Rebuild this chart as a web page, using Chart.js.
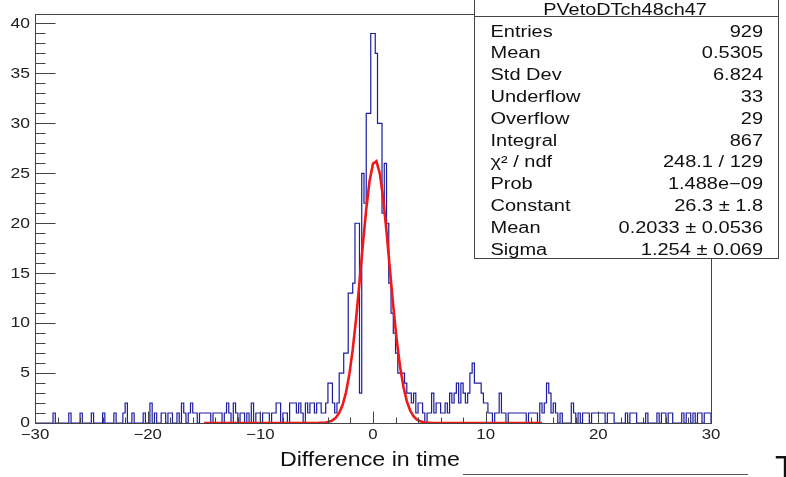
<!DOCTYPE html>
<html>
<head>
<meta charset="utf-8">
<script src="https://cdn.jsdelivr.net/npm/chart.js@4.4.1/dist/chart.umd.min.js"></script>
<style>
  html, body { margin: 0; padding: 0; background: #fff; }
  #wrap { width: 786px; height: 477px; }
</style>
</head>
<body>
<div id="wrap"><canvas id="dtChart" width="786" height="477"></canvas></div>
<script>
// binning of the time difference histogram
const binLow = -30
const binWidth = 0.2

// bin contents, 25 bins (5 ns) per row, from -30 to 30
const counts = [
  0, 0, 0, 0, 0, 0, 0, 0, 1, 0, 0, 0, 0, 0, 0, 1, 0, 0, 0, 0, 1, 0, 0, 0, 0,
  1, 0, 0, 0, 0, 1, 0, 0, 0, 0, 1, 0, 0, 0, 1, 2, 0, 0, 1, 0, 0, 0, 0, 1, 0,
  0, 2, 0, 1, 0, 0, 1, 1, 0, 1, 1, 0, 0, 1, 0, 2, 1, 0, 1, 2, 1, 1, 0, 1, 1,
  1, 1, 1, 0, 1, 1, 1, 1, 0, 1, 2, 1, 0, 2, 1, 0, 1, 1, 0, 1, 0, 2, 0, 1, 1,
  0, 1, 1, 1, 0, 1, 1, 2, 2, 0, 1, 1, 0, 2, 2, 2, 1, 2, 1, 0, 2, 1, 2, 2, 1,
  2, 2, 1, 1, 2, 4, 4, 2, 1, 2, 5, 5, 7, 7, 13, 13, 14, 20, 20, 3, 25, 22, 31, 31, 39,
  39, 37, 30, 30, 21, 26, 20, 14, 11, 9, 7, 5, 5, 5, 4, 3, 3, 2, 3, 1, 2, 2, 1, 0, 1,
  1, 3, 1, 2, 2, 1, 1, 2, 1, 3, 2, 3, 4, 2, 4, 3, 2, 3, 5, 6, 4, 4, 4, 3, 2,
  2, 1, 1, 0, 1, 1, 3, 1, 1, 0, 1, 1, 1, 1, 1, 1, 1, 1, 0, 1, 1, 1, 1, 0, 2,
  1, 2, 4, 3, 1, 2, 1, 0, 1, 0, 0, 0, 0, 2, 1, 0, 1, 0, 1, 1, 1, 0, 1, 1, 1,
  1, 1, 1, 0, 1, 1, 1, 0, 0, 0, 0, 0, 1, 0, 1, 1, 1, 0, 0, 0, 0, 1, 0, 0, 0,
  0, 1, 0, 1, 1, 0, 1, 1, 0, 0, 0, 0, 1, 0, 1, 1, 0, 1, 0, 1, 1, 0, 1, 1, 1,
]

const xTicks = [-30, -20, -10, 0, 10, 20, 30]
const yTicks = [0, 5, 10, 15, 20, 25, 30, 35, 40]
const yMax = 40.95

// gaus fit result
const fitRange = [-15, 15]
const fitConstant = 26.3
const fitMean = 0.2033
const fitSigma = 1.254

const histName = "PVetoDTch48ch47"
const xTitle = "Difference in time"
const statLabels = ["Entries", "Mean", "Std Dev", "Underflow", "Overflow", "Integral",
  "χ² / ndf", "Prob", "Constant", "Mean", "Sigma"]
const statValues = ["929", "0.5305", "6.824", "33", "29", "867",
  "248.1 / 129", "1.488e\u221209", "26.3 ± 1.8", "0.2033 ± 0.0536", "1.254 ± 0.069"]

const FONT = '"Liberation Sans", Arial, sans-serif'

// histogram outline: one point per bin low edge, drawn as steps
const histPoints = counts.map((c, i) => ({ x: binLow + i * binWidth, y: c }))
histPoints.push({ x: binLow + counts.length * binWidth, y: 0 })

const fitPoints = []
for (let i = 0; i <= 100; i++) {
  const x = fitRange[0] + ((fitRange[1] - fitRange[0]) * i) / 100
  const u = (x - fitMean) / fitSigma
  fitPoints.push({ x: x, y: fitConstant * Math.exp(-0.5 * u * u) })
}

function wideText(ctx, text, x, y, align, sx) {
  ctx.save()
  ctx.translate(x, y)
  ctx.scale(sx, 1)
  ctx.textAlign = align
  ctx.fillText(text, 0, 0)
  ctx.restore()
}

function seg(ctx, x1, y1, x2, y2) {
  ctx.beginPath()
  ctx.moveTo(x1, y1)
  ctx.lineTo(x2, y2)
  ctx.stroke()
}

// frame, axes and stats box in the usual ROOT look
const rootPad = {
  id: "rootPad",
  afterDraw(chart) {
    const ctx = chart.ctx
    const xs = chart.scales.x
    const ys = chart.scales.y
    const a = chart.chartArea
    const L = Math.round(a.left) + 0.5
    const R = Math.round(a.right) + 0.5
    const T = Math.round(a.top) + 0.5
    const B = Math.round(a.bottom) + 0.5

    ctx.save()
    ctx.strokeStyle = "#444"
    ctx.lineWidth = 1
    ctx.strokeRect(L, T, R - L, B - T)

    // y axis ticks, minor every 1
    for (let v = 0; v <= 40; v++) {
      const y = Math.round(ys.getPixelForValue(v)) + 0.5
      seg(ctx, L, y, L + (v % 5 === 0 ? 20 : 10), y)
    }
    // x axis ticks, minor every 2
    for (let v = -30; v <= 30; v += 2) {
      const x = Math.round(xs.getPixelForValue(v)) + 0.5
      seg(ctx, x, B, x, B - (v % 10 === 0 ? 12 : 6))
    }

    ctx.fillStyle = "#222"
    ctx.font = "14px " + FONT
    ctx.textBaseline = "middle"
    yTicks.forEach((v) => {
      wideText(ctx, String(v), 30, ys.getPixelForValue(v) + 0.5, "right", 1.25)
    })
    ctx.textBaseline = "alphabetic"
    xTicks.forEach((v) => {
      const s = v < 0 ? "\u2212" + Math.abs(v) : String(v)
      wideText(ctx, s, xs.getPixelForValue(v), 438.5, "center", 1.2)
    })

    ctx.fillStyle = "#111"
    ctx.font = "20px " + FONT
    wideText(ctx, xTitle, 460, 466, "right", 1.16)

    // leftovers of the next pad at the bottom edge
    ctx.strokeStyle = "#555"
    seg(ctx, 463, 474.5, 748, 474.5)
    ctx.font = "31px " + FONT
    wideText(ctx, "T", 775, 478, "left", 1.1)

    // stats box
    const bx = 474.5, bw = 304, by = -1.5, bb = 258.5
    ctx.fillStyle = "#fff"
    ctx.fillRect(bx, by, bw, bb - by)
    ctx.strokeStyle = "#444"
    ctx.strokeRect(bx, by, bw, bb - by)
    seg(ctx, bx, 16.5, bx + bw, 16.5)

    ctx.fillStyle = "#111"
    ctx.font = "17px " + FONT
    wideText(ctx, histName, 625, 14.5, "center", 1.17)
    ctx.font = "16px " + FONT
    statLabels.forEach((lab, i) => {
      const y = 36.5 + 21.8 * i
      wideText(ctx, lab, 490.5, y, "left", 1.25)
      wideText(ctx, statValues[i], 763, y, "right", 1.25)
    })
    ctx.restore()
  },
}

new Chart(document.getElementById("dtChart"), {
  type: "line",
  data: {
    datasets: [
      {
        label: "gaus",
        data: fitPoints,
        borderColor: "#f01818",
        borderWidth: 2.6,
        pointRadius: 0,
        tension: 0,
        order: 1,
      },
      {
        label: histName,
        data: histPoints,
        stepped: "before",
        borderColor: "#1c1ca0",
        borderWidth: 1.2,
        pointRadius: 0,
        order: 2,
      },
    ],
  },
  options: {
    responsive: false,
    animation: false,
    events: [],
    layout: {
      padding: { left: 35, right: 75, top: 14, bottom: 54 },
    },
    plugins: {
      legend: { display: false },
      tooltip: { enabled: false },
    },
    scales: {
      x: { type: "linear", min: -30, max: 30, display: false },
      y: { type: "linear", min: 0, max: yMax, display: false },
    },
  },
  plugins: [rootPad],
})
</script>
</body>
</html>
